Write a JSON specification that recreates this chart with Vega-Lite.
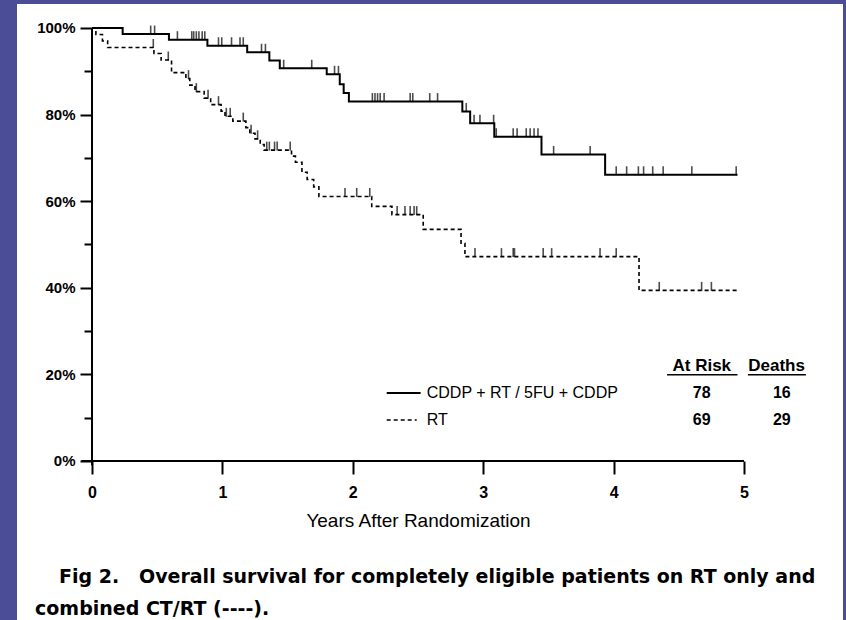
{
  "$schema": "https://vega.github.io/schema/vega-lite/v6.json",
  "width": 826,
  "height": 616,
  "autosize": {"type": "none"},
  "padding": {"left": 17, "top": 4, "right": 3, "bottom": 0},
  "background": "#4b4d96",
  "config": {"view": {"fill": "white", "stroke": null}, "font": "Liberation Sans"},
  "data": {"values": [{}]},
  "datasets": {
    "curves": [
      {"g": "CDDP", "t": 0, "s": 1.0}, {"g": "CDDP", "t": 0.235, "s": 0.986}, {"g": "CDDP", "t": 0.59, "s": 0.973},
      {"g": "CDDP", "t": 0.885, "s": 0.959}, {"g": "CDDP", "t": 1.19, "s": 0.944}, {"g": "CDDP", "t": 1.36, "s": 0.925},
      {"g": "CDDP", "t": 1.44, "s": 0.907}, {"g": "CDDP", "t": 1.80, "s": 0.893}, {"g": "CDDP", "t": 1.90, "s": 0.870},
      {"g": "CDDP", "t": 1.93, "s": 0.850}, {"g": "CDDP", "t": 1.97, "s": 0.830}, {"g": "CDDP", "t": 2.84, "s": 0.807},
      {"g": "CDDP", "t": 2.90, "s": 0.780}, {"g": "CDDP", "t": 3.085, "s": 0.749}, {"g": "CDDP", "t": 3.447, "s": 0.708},
      {"g": "CDDP", "t": 3.935, "s": 0.661}, {"g": "CDDP", "t": 4.95, "s": 0.661},
      {"g": "RT", "t": 0, "s": 1.0}, {"g": "RT", "t": 0.03, "s": 0.985}, {"g": "RT", "t": 0.08, "s": 0.970},
      {"g": "RT", "t": 0.12, "s": 0.955}, {"g": "RT", "t": 0.475, "s": 0.941}, {"g": "RT", "t": 0.53, "s": 0.926},
      {"g": "RT", "t": 0.61, "s": 0.897}, {"g": "RT", "t": 0.72, "s": 0.883}, {"g": "RT", "t": 0.75, "s": 0.868},
      {"g": "RT", "t": 0.79, "s": 0.853}, {"g": "RT", "t": 0.86, "s": 0.838}, {"g": "RT", "t": 0.91, "s": 0.823},
      {"g": "RT", "t": 0.99, "s": 0.808}, {"g": "RT", "t": 1.02, "s": 0.796}, {"g": "RT", "t": 1.08, "s": 0.785},
      {"g": "RT", "t": 1.18, "s": 0.770}, {"g": "RT", "t": 1.21, "s": 0.757}, {"g": "RT", "t": 1.25, "s": 0.744},
      {"g": "RT", "t": 1.29, "s": 0.731}, {"g": "RT", "t": 1.32, "s": 0.718}, {"g": "RT", "t": 1.53, "s": 0.704},
      {"g": "RT", "t": 1.56, "s": 0.690}, {"g": "RT", "t": 1.61, "s": 0.667}, {"g": "RT", "t": 1.65, "s": 0.650},
      {"g": "RT", "t": 1.70, "s": 0.633}, {"g": "RT", "t": 1.74, "s": 0.611}, {"g": "RT", "t": 2.145, "s": 0.588},
      {"g": "RT", "t": 2.30, "s": 0.569}, {"g": "RT", "t": 2.54, "s": 0.535}, {"g": "RT", "t": 2.83, "s": 0.503},
      {"g": "RT", "t": 2.86, "s": 0.472}, {"g": "RT", "t": 4.195, "s": 0.394}, {"g": "RT", "t": 4.96, "s": 0.394}
    ],
    "censored": [
      {"g": "CDDP", "t": 0.45, "s": 0.986}, {"g": "CDDP", "t": 0.48, "s": 0.986},
      {"g": "CDDP", "t": 0.655, "s": 0.973}, {"g": "CDDP", "t": 0.765, "s": 0.973}, {"g": "CDDP", "t": 0.78, "s": 0.973},
      {"g": "CDDP", "t": 0.80, "s": 0.973}, {"g": "CDDP", "t": 0.82, "s": 0.973}, {"g": "CDDP", "t": 0.845, "s": 0.973},
      {"g": "CDDP", "t": 0.865, "s": 0.973},
      {"g": "CDDP", "t": 0.97, "s": 0.959}, {"g": "CDDP", "t": 0.995, "s": 0.959}, {"g": "CDDP", "t": 1.07, "s": 0.959},
      {"g": "CDDP", "t": 1.135, "s": 0.959}, {"g": "CDDP", "t": 1.16, "s": 0.959},
      {"g": "CDDP", "t": 1.30, "s": 0.944}, {"g": "CDDP", "t": 1.33, "s": 0.944},
      {"g": "CDDP", "t": 1.47, "s": 0.907}, {"g": "CDDP", "t": 1.685, "s": 0.907},
      {"g": "CDDP", "t": 1.86, "s": 0.893}, {"g": "CDDP", "t": 1.89, "s": 0.893},
      {"g": "CDDP", "t": 2.15, "s": 0.830}, {"g": "CDDP", "t": 2.17, "s": 0.830}, {"g": "CDDP", "t": 2.19, "s": 0.830},
      {"g": "CDDP", "t": 2.21, "s": 0.830}, {"g": "CDDP", "t": 2.24, "s": 0.830}, {"g": "CDDP", "t": 2.44, "s": 0.830},
      {"g": "CDDP", "t": 2.46, "s": 0.830}, {"g": "CDDP", "t": 2.59, "s": 0.830}, {"g": "CDDP", "t": 2.65, "s": 0.830},
      {"g": "CDDP", "t": 2.87, "s": 0.807},
      {"g": "CDDP", "t": 2.93, "s": 0.780}, {"g": "CDDP", "t": 2.975, "s": 0.780}, {"g": "CDDP", "t": 3.08, "s": 0.780},
      {"g": "CDDP", "t": 3.10, "s": 0.749}, {"g": "CDDP", "t": 3.23, "s": 0.749}, {"g": "CDDP", "t": 3.26, "s": 0.749},
      {"g": "CDDP", "t": 3.33, "s": 0.749}, {"g": "CDDP", "t": 3.36, "s": 0.749}, {"g": "CDDP", "t": 3.39, "s": 0.749},
      {"g": "CDDP", "t": 3.42, "s": 0.749},
      {"g": "CDDP", "t": 3.54, "s": 0.708}, {"g": "CDDP", "t": 3.82, "s": 0.708},
      {"g": "CDDP", "t": 4.02, "s": 0.661}, {"g": "CDDP", "t": 4.10, "s": 0.661}, {"g": "CDDP", "t": 4.19, "s": 0.661},
      {"g": "CDDP", "t": 4.23, "s": 0.661}, {"g": "CDDP", "t": 4.30, "s": 0.661}, {"g": "CDDP", "t": 4.38, "s": 0.661},
      {"g": "CDDP", "t": 4.60, "s": 0.661}, {"g": "CDDP", "t": 4.94, "s": 0.661},
      {"g": "RT", "t": 0.47, "s": 0.955}, {"g": "RT", "t": 0.585, "s": 0.926}, {"g": "RT", "t": 0.74, "s": 0.883},
      {"g": "RT", "t": 0.80, "s": 0.853}, {"g": "RT", "t": 0.89, "s": 0.838}, {"g": "RT", "t": 0.97, "s": 0.823},
      {"g": "RT", "t": 1.03, "s": 0.796}, {"g": "RT", "t": 1.06, "s": 0.796}, {"g": "RT", "t": 1.16, "s": 0.785},
      {"g": "RT", "t": 1.22, "s": 0.757}, {"g": "RT", "t": 1.27, "s": 0.744},
      {"g": "RT", "t": 1.34, "s": 0.718}, {"g": "RT", "t": 1.36, "s": 0.718}, {"g": "RT", "t": 1.40, "s": 0.718},
      {"g": "RT", "t": 1.42, "s": 0.718}, {"g": "RT", "t": 1.52, "s": 0.718},
      {"g": "RT", "t": 1.94, "s": 0.611}, {"g": "RT", "t": 2.03, "s": 0.611}, {"g": "RT", "t": 2.13, "s": 0.611},
      {"g": "RT", "t": 2.34, "s": 0.569}, {"g": "RT", "t": 2.40, "s": 0.569}, {"g": "RT", "t": 2.44, "s": 0.569},
      {"g": "RT", "t": 2.47, "s": 0.569}, {"g": "RT", "t": 2.49, "s": 0.569},
      {"g": "RT", "t": 2.937, "s": 0.472}, {"g": "RT", "t": 3.14, "s": 0.472}, {"g": "RT", "t": 3.23, "s": 0.472},
      {"g": "RT", "t": 3.24, "s": 0.472}, {"g": "RT", "t": 3.46, "s": 0.472}, {"g": "RT", "t": 3.525, "s": 0.472},
      {"g": "RT", "t": 3.896, "s": 0.472}, {"g": "RT", "t": 4.02, "s": 0.472},
      {"g": "RT", "t": 4.35, "s": 0.394}, {"g": "RT", "t": 4.675, "s": 0.394}, {"g": "RT", "t": 4.75, "s": 0.394}
    ]
  },
  "layer": [
    {
      "data": {"name": "curves"},
      "transform": [{"filter": "datum.g === 'CDDP'"}],
      "mark": {"type": "line", "interpolate": "step-after", "color": "black", "strokeWidth": 2},
      "encoding": {
        "x": {
          "field": "t", "type": "quantitative",
          "scale": {"domain": [-0.5752, 5.7592], "nice": false, "zero": false},
          "axis": {
            "values": [0, 0.5, 1, 1.5, 2, 2.5, 3, 3.5, 4, 4.5, 5],
            "domain": false, "grid": false, "offset": -159, "format": "d",
            "tickColor": "black", "tickWidth": 2,
            "tickSize": {"condition": {"test": "datum.value % 1 === 0", "value": 13}, "value": 9},
            "labelExpr": "datum.value % 1 === 0 ? datum.label : ''",
            "labelFontSize": 16, "labelFontWeight": "bold", "labelColor": "black", "labelPadding": 10,
            "title": "Years After Randomization",
            "titleFontSize": 19, "titleFontWeight": "normal", "titleColor": "black",
            "titleX": 401, "titleY": 65, "titleAlign": "center", "titleBaseline": "alphabetic"
          }
        },
        "y": {
          "field": "s", "type": "quantitative",
          "scale": {"domain": [-0.3672, 1.0554], "nice": false, "zero": false},
          "axis": {
            "values": [0, 0.1, 0.2, 0.3, 0.4, 0.5, 0.6, 0.7, 0.8, 0.9, 1.0],
            "domain": false, "grid": false, "offset": -75,
            "format": ".0%",
            "tickColor": "black", "tickWidth": 2,
            "tickSize": {"condition": {"test": "round(datum.value * 10) % 2 === 0", "value": 12}, "value": 8},
            "labelExpr": "round(datum.value * 10) % 2 === 0 ? datum.label : ''",
            "labelFontSize": 15, "labelFontWeight": "bold", "labelColor": "black", "labelPadding": 5,
            "title": null
          }
        }
      }
    },
    {
      "data": {"name": "curves"},
      "transform": [{"filter": "datum.g === 'RT'"}],
      "mark": {"type": "line", "interpolate": "step-after", "color": "black", "strokeWidth": 1.6, "strokeDash": [4, 3]},
      "encoding": {
        "x": {"field": "t", "type": "quantitative"},
        "y": {"field": "s", "type": "quantitative"}
      }
    },
    {
      "data": {"name": "censored"},
      "mark": {"type": "tick", "orient": "vertical", "color": "black", "size": 9, "thickness": 1.6, "yOffset": -4},
      "encoding": {
        "x": {"field": "t", "type": "quantitative"},
        "y": {"field": "s", "type": "quantitative"}
      }
    },
    {
      "mark": {"type": "rule", "color": "black", "strokeWidth": 2},
      "encoding": {"x": {"datum": -0.08}, "x2": {"datum": 5.0}, "y": {"datum": 0}}
    },
    {
      "mark": {"type": "rule", "color": "black", "strokeWidth": 2},
      "encoding": {"x": {"datum": 0}, "y": {"datum": -0.01}, "y2": {"datum": 1.0}}
    },
    {
      "mark": {"type": "rule", "color": "black", "strokeWidth": 2},
      "encoding": {"x": {"datum": 2.26}, "x2": {"datum": 2.52}, "y": {"datum": 0.157}}
    },
    {
      "mark": {"type": "rule", "color": "black", "strokeWidth": 1.6, "strokeDash": [4, 3]},
      "encoding": {"x": {"datum": 2.26}, "x2": {"datum": 2.49}, "y": {"datum": 0.0947}}
    },
    {
      "mark": {"type": "text", "text": "CDDP + RT / 5FU + CDDP", "align": "left", "baseline": "middle", "fontSize": 16, "color": "black"},
      "encoding": {"x": {"datum": 2.567}, "y": {"datum": 0.157}}
    },
    {
      "mark": {"type": "text", "text": "RT", "align": "left", "baseline": "middle", "fontSize": 16, "color": "black"},
      "encoding": {"x": {"datum": 2.567}, "y": {"datum": 0.0947}}
    },
    {
      "mark": {"type": "text", "text": "At Risk", "align": "center", "baseline": "middle", "fontSize": 17, "fontWeight": "bold", "color": "black"},
      "encoding": {"x": {"datum": 4.676}, "y": {"datum": 0.219}}
    },
    {
      "mark": {"type": "text", "text": "Deaths", "align": "center", "baseline": "middle", "fontSize": 17, "fontWeight": "bold", "color": "black"},
      "encoding": {"x": {"datum": 5.25}, "y": {"datum": 0.219}}
    },
    {
      "mark": {"type": "rule", "color": "black", "strokeWidth": 1.5},
      "encoding": {"x": {"datum": 4.41}, "x2": {"datum": 4.95}, "y": {"datum": 0.199}}
    },
    {
      "mark": {"type": "rule", "color": "black", "strokeWidth": 1.5},
      "encoding": {"x": {"datum": 5.03}, "x2": {"datum": 5.475}, "y": {"datum": 0.199}}
    },
    {
      "mark": {"type": "text", "text": "78", "align": "center", "baseline": "middle", "fontSize": 16, "fontWeight": "bold", "color": "black"},
      "encoding": {"x": {"datum": 4.676}, "y": {"datum": 0.157}}
    },
    {
      "mark": {"type": "text", "text": "16", "align": "center", "baseline": "middle", "fontSize": 16, "fontWeight": "bold", "color": "black"},
      "encoding": {"x": {"datum": 5.29}, "y": {"datum": 0.157}}
    },
    {
      "mark": {"type": "text", "text": "69", "align": "center", "baseline": "middle", "fontSize": 16, "fontWeight": "bold", "color": "black"},
      "encoding": {"x": {"datum": 4.676}, "y": {"datum": 0.0947}}
    },
    {
      "mark": {"type": "text", "text": "29", "align": "center", "baseline": "middle", "fontSize": 16, "fontWeight": "bold", "color": "black"},
      "encoding": {"x": {"datum": 5.29}, "y": {"datum": 0.0947}}
    },
    {
      "mark": {"type": "text", "text": "Fig 2.\u00a0\u00a0\u00a0Overall survival for completely eligible patients on RT only and", "align": "left", "baseline": "middle", "font": "DejaVu Sans", "fontSize": 19, "fontWeight": "bold", "color": "black"},
      "encoding": {"x": {"datum": -0.253}, "y": {"datum": -0.268}}
    },
    {
      "mark": {"type": "text", "text": "combined CT/RT (----).", "align": "left", "baseline": "middle", "font": "DejaVu Sans", "fontSize": 19, "fontWeight": "bold", "color": "black"},
      "encoding": {"x": {"datum": -0.437}, "y": {"datum": -0.342}}
    }
  ]
}
